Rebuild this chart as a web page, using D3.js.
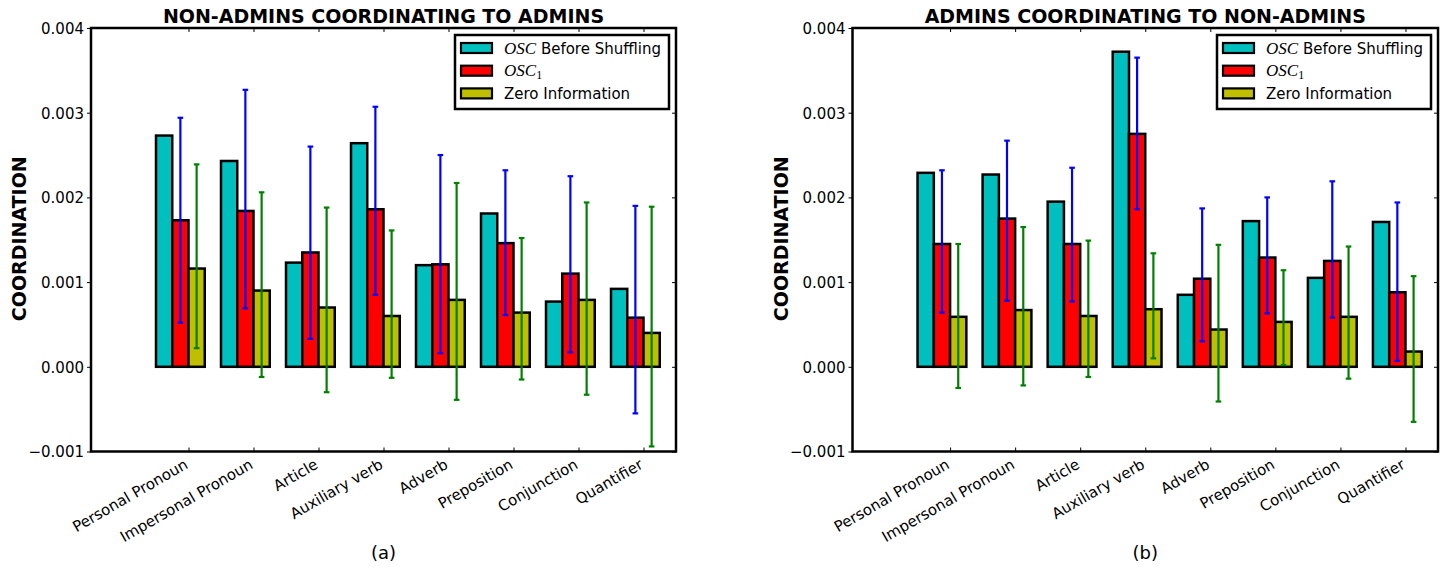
<!DOCTYPE html>
<html>
<head>
<meta charset="utf-8">
<script src="https://cdn.jsdelivr.net/npm/d3@7"></script>
<style>
  html, body { margin: 0; padding: 0; background: #fff; }
  svg { display: block; }
  text { font-family: "DejaVu Sans", sans-serif; }
</style>
</head>
<body>
<svg id="chart" width="1445" height="567"></svg>
<script>
// ---------------- data ----------------
const categories = ["Personal Pronoun", "Impersonal Pronoun", "Article", "Auxiliary verb",
                    "Adverb", "Preposition", "Conjunction", "Quantifier"];
const yTicks = [-0.001, 0.000, 0.001, 0.002, 0.003, 0.004];
const seriesNames = ["Before Shuffling", "OSC1", "Zero Information"];

// (a) Non-admins coordinating to admins
const aTitle = "NON-ADMINS COORDINATING TO ADMINS";
const aBefore  = [0.00273, 0.00243, 0.00123, 0.00264, 0.00120, 0.00181, 0.00077, 0.00092];
const aOsc1    = [0.00173, 0.00184, 0.00135, 0.00186, 0.00121, 0.00146, 0.00110, 0.00058];
const aOsc1Hi  = [0.00294, 0.00327, 0.00260, 0.00307, 0.00250, 0.00232, 0.00225, 0.00190];
const aOsc1Lo  = [0.00052, 0.00069, 0.00033, 0.00085, 0.00016, 0.00061, 0.00017, -0.00055];
const aZero    = [0.00116, 0.00090, 0.00070, 0.00060, 0.00079, 0.00064, 0.00079, 0.00040];
const aZeroHi  = [0.00239, 0.00206, 0.00188, 0.00161, 0.00217, 0.00152, 0.00194, 0.00189];
const aZeroLo  = [0.00022, -0.00012, -0.00030, -0.00013, -0.00039, -0.00015, -0.00033, -0.00094];

// (b) Admins coordinating to non-admins
const bTitle = "ADMINS COORDINATING TO NON-ADMINS";
const bBefore  = [0.00229, 0.00227, 0.00195, 0.00372, 0.00085, 0.00172, 0.00105, 0.00171];
const bOsc1    = [0.00145, 0.00175, 0.00145, 0.00275, 0.00104, 0.00129, 0.00125, 0.00088];
const bOsc1Hi  = [0.00232, 0.00267, 0.00235, 0.00365, 0.00187, 0.00200, 0.00219, 0.00194];
const bOsc1Lo  = [0.00064, 0.00078, 0.00077, 0.00186, 0.00030, 0.00063, 0.00058, 0.00007];
const bZero    = [0.00059, 0.00067, 0.00060, 0.00068, 0.00044, 0.00053, 0.00059, 0.00018];
const bZeroHi  = [0.00145, 0.00165, 0.00149, 0.00134, 0.00144, 0.00114, 0.00142, 0.00107];
const bZeroLo  = [-0.00025, -0.00022, -0.00012, 0.00010, -0.00041, 0.00002, -0.00014, -0.00065];

// ---------------- drawing ----------------
const COLORS = { before: "#00BFBF", osc1: "#FF0000", zero: "#BFBF00", errOsc1: "#0000FF", errZero: "#008000" };
const svg = d3.select("#chart");
svg.append("rect").attr("width", 1445).attr("height", 567).attr("fill", "#fff");

function panel(opt) {
  const { x0, x1, y0, y1, title, before, osc1, osc1Lo, osc1Hi, zero, zeroLo, zeroHi, tag } = opt;
  const g = svg.append("g");
  const x = d3.scaleLinear().domain([-1, 8]).range([x0, x1]);
  const y = d3.scaleLinear().domain([-0.001, 0.004]).range([y1, y0]);
  const bw = 0.25;
  const idx = d3.range(categories.length);

  const series = [
    { vals: before, off: 0, color: COLORS.before },
    { vals: osc1, off: bw, color: COLORS.osc1 },
    { vals: zero, off: 2 * bw, color: COLORS.zero }
  ];
  series.forEach(s => {
    g.selectAll(null).data(idx).enter().append("rect")
      .attr("x", i => x(i + s.off))
      .attr("width", x(bw) - x(0))
      .attr("y", i => y(Math.max(0, s.vals[i])))
      .attr("height", i => Math.abs(y(s.vals[i]) - y(0)))
      .attr("fill", s.color)
      .attr("stroke", "#000")
      .attr("stroke-width", 2.5);
  });

  const errs = [
    { lo: osc1Lo, hi: osc1Hi, off: bw * 1.5, color: COLORS.errOsc1 },
    { lo: zeroLo, hi: zeroHi, off: bw * 2.5, color: COLORS.errZero }
  ];
  errs.forEach(e => {
    const eg = g.append("g").attr("stroke", e.color).attr("stroke-width", 2.2);
    idx.forEach(i => {
      const cx = x(i + e.off);
      eg.append("line").attr("x1", cx).attr("x2", cx).attr("y1", y(e.lo[i])).attr("y2", y(e.hi[i]));
      [e.lo[i], e.hi[i]].forEach(v => {
        eg.append("line").attr("x1", cx - 2.8).attr("x2", cx + 2.8).attr("y1", y(v)).attr("y2", y(v));
      });
    });
  });

  // axes
  const fmt = v => d3.format(".3f")(v).replace("-", "\u2212");
  const yAxis = d3.axisLeft(y).tickValues(yTicks).tickFormat(fmt).tickSize(4).tickPadding(3);
  const ya = g.append("g").attr("transform", `translate(${x0},0)`).call(yAxis);
  ya.select(".domain").remove();
  ya.selectAll(".tick line").attr("stroke", "#000").attr("stroke-width", 1);
  ya.selectAll("text").attr("font-size", 15).attr("font-family", "DejaVu Sans").attr("fill", "#000").attr("dy", "0.36em");

  const ticksX = idx.map(i => i + 2 * bw);
  const xb = d3.axisBottom(x).tickValues(ticksX).tickFormat("").tickSize(-4);
  const xa = g.append("g").attr("transform", `translate(0,${y1})`).call(xb);
  xa.select(".domain").remove();
  xa.selectAll(".tick line").attr("stroke", "#000");
  const xt = d3.axisTop(x).tickValues(ticksX).tickFormat("").tickSize(-4);
  const xta = g.append("g").attr("transform", `translate(0,${y0})`).call(xt);
  xta.select(".domain").remove();
  xta.selectAll(".tick line").attr("stroke", "#000");
  const yr = d3.axisRight(y).tickValues(yTicks).tickFormat("").tickSize(-4);
  const yra = g.append("g").attr("transform", `translate(${x1},0)`).call(yr);
  yra.select(".domain").remove();
  yra.selectAll(".tick line").attr("stroke", "#000");

  // category labels
  g.selectAll(null).data(idx).enter().append("text")
    .attr("transform", i => `translate(${x(ticksX[i]) + 0.5},${y1 + 16}) rotate(-30)`)
    .attr("text-anchor", "end")
    .attr("font-size", 15)
    .text(i => categories[i]);

  // frame
  g.append("rect").attr("x", x0).attr("y", y0).attr("width", x1 - x0).attr("height", y1 - y0)
    .attr("fill", "none").attr("stroke", "#000").attr("stroke-width", 2.5);

  // title
  g.append("text").attr("x", (x0 + x1) / 2).attr("y", 23).attr("text-anchor", "middle")
    .attr("font-size", 19).attr("font-weight", "bold").text(title);

  // y label
  g.append("text").attr("transform", `translate(${x0 - 65},${(y0 + y1) / 2 - 1}) rotate(-90)`)
    .attr("text-anchor", "middle").attr("font-size", 19).attr("font-weight", "bold").text("COORDINATION");

  // panel tag
  g.append("text").attr("x", (x0 + x1) / 2).attr("y", 559).attr("text-anchor", "middle")
    .attr("font-size", 18).text(tag);

  // legend
  const lx = x1 - 221, ly = 35, lw = 214, lh = 74;
  const lg = g.append("g");
  lg.append("rect").attr("x", lx).attr("y", ly).attr("width", lw).attr("height", lh)
    .attr("fill", "#fff").attr("stroke", "#000").attr("stroke-width", 2.5);
  const legColors = [COLORS.before, COLORS.osc1, COLORS.zero];
  legColors.forEach((c, k) => {
    const cy = ly + 13 + k * 22.7;
    lg.append("rect").attr("x", lx + 6).attr("y", cy - 5).attr("width", 31).attr("height", 10)
      .attr("fill", c).attr("stroke", "#000").attr("stroke-width", 2.2);
    const t = lg.append("text").attr("x", lx + 49).attr("y", cy + 5.5).attr("font-size", 15);
    if (k === 0) {
      t.append("tspan").attr("font-family", "Liberation Serif").attr("font-style", "italic").attr("font-size", 17).text("OSC");
      t.append("tspan").text(" " + seriesNames[0]);
    } else if (k === 1) {
      t.append("tspan").attr("font-family", "Liberation Serif").attr("font-style", "italic").attr("font-size", 17).text("OSC");
      t.append("tspan").attr("font-family", "Liberation Serif").attr("font-size", 12).attr("dy", 3).text("1");
    } else {
      t.append("tspan").text(seriesNames[2]);
    }
  });
}

panel({ x0: 91, x1: 676, y0: 28, y1: 451.5, title: aTitle, tag: "(a)",
  before: aBefore, osc1: aOsc1, osc1Lo: aOsc1Lo, osc1Hi: aOsc1Hi, zero: aZero, zeroLo: aZeroLo, zeroHi: aZeroHi });
panel({ x0: 852.5, x1: 1438, y0: 28, y1: 451.5, title: bTitle, tag: "(b)",
  before: bBefore, osc1: bOsc1, osc1Lo: bOsc1Lo, osc1Hi: bOsc1Hi, zero: bZero, zeroLo: bZeroLo, zeroHi: bZeroHi });
</script>
</body>
</html>
